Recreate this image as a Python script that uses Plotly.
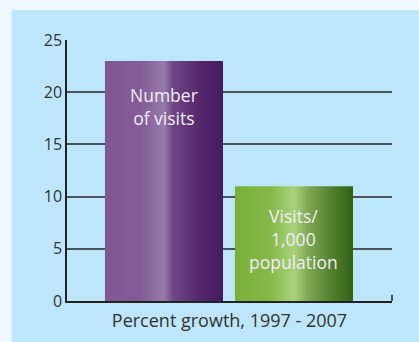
import plotly.graph_objects as go

categories = ["Number<br>of visits", "Visits/<br>1,000<br>population"]
values = [23, 11]
positions = [0, 1]
bar_width = 0.908
x_title = "Percent growth, 1997 - 2007"
y_ticks = [0, 5, 10, 15, 20, 25]

gradients = [
    [[0.0, "#7F5893"], [0.3, "#835C97"], [0.5, "#977AA9"], [0.58, "#6C4683"], [0.8, "#55286E"], [1.0, "#461A5F"]],
    [[0.0, "#7AB03A"], [0.3, "#86B948"], [0.5, "#A9D27C"], [0.62, "#7FA853"], [0.85, "#4B7A28"], [1.0, "#336216"]],
]
label_shift = [-20, -16]

fig = go.Figure()

for pos, val, cat, cs, shift in zip(positions, values, categories, gradients, label_shift):
    x0, x1 = pos - bar_width / 2, pos + bar_width / 2
    fig.add_trace(go.Scatter(
        x=[x0, x1, x1, x0, x0], y=[0, 0, val, val, 0],
        mode="lines", line=dict(width=0), fill="toself",
        fillcolor=cs[1][1],
        fillgradient=dict(type="horizontal", colorscale=cs),
        hoverinfo="skip", showlegend=False,
    ))
    fig.add_annotation(
        x=pos, y=val, xref="x", yref="y", text=cat, showarrow=False,
        yanchor="top", yshift=shift, align="center",
        font=dict(family="Open Sans", size=17.5, color="#F2ECF6"),
    )

# light blue panel behind the chart
fig.add_shape(type="rect", xref="paper", yref="paper", x0=-0.17, x1=1.2, y0=-0.3, y1=1.115,
              fillcolor="#BDE6FA", line=dict(width=0), layer="below")
# small tick at the right end of the x axis
fig.add_shape(type="line", xref="paper", yref="paper", x0=1, x1=1, y0=0, y1=0.024,
              line=dict(color="#222222", width=1.5))

fig.update_layout(
    width=419, height=342,
    margin=dict(l=67, r=27, t=40, b=41),
    paper_bgcolor="#EEF8FE", plot_bgcolor="#BDE6FA",
    showlegend=False,
    xaxis=dict(range=[-0.746, 1.754], showticklabels=False, showgrid=False, zeroline=False,
               showline=True, linecolor="#222222", linewidth=1.5, ticks="",
               title=dict(text=x_title, standoff=13,
                          font=dict(family="Open Sans", size=18, color="#333333"))),
    yaxis=dict(range=[0, 25], tickvals=y_ticks, showgrid=True, gridcolor="#4A535C", gridwidth=1.5,
               zeroline=False, showline=True, linecolor="#222222", linewidth=1.5,
               ticks="outside", ticklen=0, tickfont=dict(family="Open Sans", size=16, color="#333333")),
)

fig.write_html("out.html")
